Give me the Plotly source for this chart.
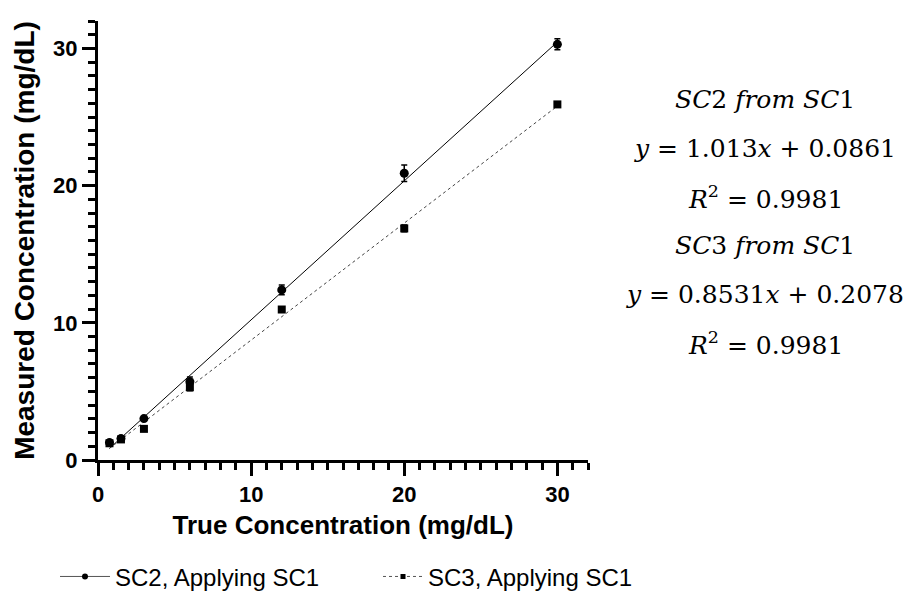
import plotly.graph_objects as go

# Nominal (true) concentrations, mg/dL
true_conc = [0.75, 1.5, 3, 6, 12, 20, 30]

# SC2 measured with the SC1 calibration
sc2_mean = [1.27, 1.56, 3.02, 5.7, 12.4, 20.9, 30.3]
sc2_err = [0.12, 0.1, 0.12, 0.35, 0.35, 0.6, 0.4]

# SC3 measured with the SC1 calibration
sc3_mean = [1.22, 1.5, 2.27, 5.3, 10.97, 16.88, 25.92]
sc3_err = [0.1, 0.1, 0.1, 0.25, 0.2, 0.25, 0.1]

# Linear regression results
sc2_slope, sc2_icpt, sc2_r2 = 1.013, 0.0861, 0.9981
sc3_slope, sc3_icpt, sc3_r2 = 0.8531, 0.2078, 0.9981

x_fit = [min(true_conc), max(true_conc)]
sc2_fit = [sc2_slope * v + sc2_icpt for v in x_fit]
sc3_fit = [sc3_slope * v + sc3_icpt for v in x_fit]

fig = go.Figure()

# Regression lines
fig.add_trace(go.Scatter(x=x_fit, y=sc2_fit, mode="lines",
                         line=dict(color="black", width=1), showlegend=False, hoverinfo="skip"))
fig.add_trace(go.Scatter(x=x_fit, y=sc3_fit, mode="lines",
                         line=dict(color="#444444", width=1, dash="dot"), showlegend=False, hoverinfo="skip"))

# Data points with error bars
fig.add_trace(go.Scatter(
    x=true_conc, y=sc2_mean, mode="markers", name="SC2, Applying SC1",
    marker=dict(symbol="circle", size=9, color="black"),
    error_y=dict(type="data", array=sc2_err, color="black", thickness=1.5, width=3),
    showlegend=False))
fig.add_trace(go.Scatter(
    x=true_conc, y=sc3_mean, mode="markers", name="SC3, Applying SC1",
    marker=dict(symbol="square", size=8, color="black"),
    error_y=dict(type="data", array=sc3_err, color="black", thickness=1.5, width=3),
    showlegend=False))

# Legend entries showing point + line style (one legend box each)
fig.add_trace(go.Scatter(x=[None], y=[None], mode="lines+markers", name="SC2, Applying SC1",
                         line=dict(color="#555555", width=1),
                         marker=dict(symbol="circle", size=6, color="black"), legend="legend"))
fig.add_trace(go.Scatter(x=[None], y=[None], mode="lines+markers", name="SC3, Applying SC1",
                         line=dict(color="#555555", width=1, dash="dot"),
                         marker=dict(symbol="square", size=5, color="black"), legend="legend2"))

# Plot-area geometry in pixels
W_L, W_R, H_T, H_B = 98, 588, 20.5, 460
def px(xp):
    return (xp - W_L) / (W_R - W_L)
def py(yp):
    return (H_B - yp) / (H_B - H_T)

# Regression equations to the right of the plot
eq_lines = [
    "<i>SC</i>2 <i>from SC</i>1",
    f"<i>y</i> = {sc2_slope}<i>x</i> + {sc2_icpt}",
    f"<i>R</i><sup>2</sup> = {sc2_r2}",
    "<i>SC</i>3 <i>from SC</i>1",
    f"<i>y</i> = {sc3_slope}<i>x</i> + {sc3_icpt}",
    f"<i>R</i><sup>2</sup> = {sc3_r2}",
]
eq_y = [99, 148, 197, 245, 294, 343]
for txt, yp in zip(eq_lines, eq_y):
    fig.add_annotation(text=txt, x=px(765), y=py(yp), xref="paper", yref="paper",
                       xanchor="center", yanchor="middle", showarrow=False,
                       font=dict(family="DejaVu Serif", size=25, color="black"))

axis_common = dict(
    showline=True, linecolor="black", linewidth=3,
    ticks="outside", ticklen=13, tickwidth=3, tickcolor="black",
    showgrid=False, zeroline=False, automargin=False,
    tickfont=dict(family="Liberation Sans", size=22, color="black", weight="bold"),
    minor=dict(ticks="outside", ticklen=7, tickwidth=3, tickcolor="black", dtick=1, showgrid=False),
)

fig.update_xaxes(range=[0, 32], tickvals=[0, 10, 20, 30],
                 title=dict(text="True Concentration (mg/dL)", standoff=10,
                            font=dict(family="Liberation Sans", size=26, color="black", weight="bold")),
                 **axis_common)
fig.update_yaxes(range=[0, 32], tickvals=[0, 10, 20, 30],
                 title=dict(text="Measured Concentration (mg/dL)", standoff=11,
                            font=dict(family="Liberation Sans", size=28, color="black", weight="bold")),
                 **axis_common)

legend_font = dict(family="Liberation Sans", size=24, color="black")
fig.update_layout(
    width=909, height=599,
    margin=dict(l=W_L, r=909 - W_R, t=H_T, b=599 - H_B, autoexpand=False),
    plot_bgcolor="white", paper_bgcolor="white",
    legend=dict(orientation="h", x=px(55), y=py(577), xanchor="left", yanchor="middle",
                font=legend_font, itemwidth=50, bgcolor="rgba(0,0,0,0)"),
    legend2=dict(orientation="h", x=px(378), y=py(577), xanchor="left", yanchor="middle",
                 font=legend_font, itemwidth=40, bgcolor="rgba(0,0,0,0)"),
)

fig.write_html("out.html")
